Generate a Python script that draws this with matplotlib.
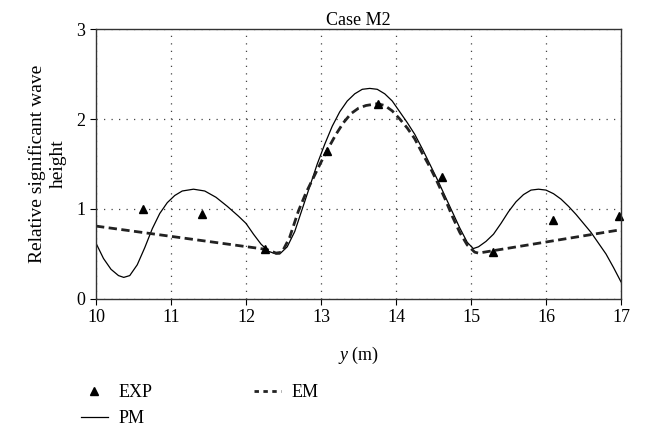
"""Case M2: relative significant wave height along y."""

import matplotlib

matplotlib.use("Agg")

import matplotlib.pyplot as plt
from matplotlib.lines import Line2D

plt.rcParams["font.family"] = ["Liberation Serif", "DejaVu Serif"]
plt.rcParams["mathtext.fontset"] = "custom"
plt.rcParams["mathtext.it"] = "Liberation Serif:italic"

# measured points
exp_y = [10.63, 11.42, 12.25, 13.08, 13.76, 14.61, 15.29, 16.10, 16.97]
exp_h = [1.00, 0.94, 0.55, 1.64, 2.17, 1.36, 0.52, 0.88, 0.92]

# PM model curve
pm_y = [10.0, 10.1, 10.2, 10.3, 10.37, 10.45, 10.55, 10.65, 10.75, 10.85,
        10.95, 11.05, 11.15, 11.3, 11.45, 11.6, 11.75, 11.9, 12.0, 12.1,
        12.2, 12.3, 12.4, 12.45, 12.55, 12.65, 12.75, 12.85, 12.95, 13.05,
        13.15, 13.25, 13.35, 13.45, 13.55, 13.65, 13.75, 13.85, 13.95, 14.05,
        14.15, 14.25, 14.35, 14.45, 14.55, 14.65, 14.75, 14.85, 14.95, 15.03,
        15.1, 15.2, 15.3, 15.4, 15.5, 15.6, 15.7, 15.8, 15.9, 16.0,
        16.1, 16.2, 16.3, 16.4, 16.5, 16.6, 16.7, 16.8, 16.9, 17.0]
pm_h = [0.62, 0.45, 0.33, 0.26, 0.24, 0.26, 0.38, 0.57, 0.78, 0.95,
        1.07, 1.15, 1.20, 1.22, 1.20, 1.13, 1.03, 0.92, 0.84, 0.72,
        0.61, 0.53, 0.50, 0.50, 0.58, 0.75, 1.00, 1.25, 1.50, 1.72,
        1.92, 2.08, 2.20, 2.28, 2.33, 2.34, 2.33, 2.28, 2.20, 2.08,
        1.96, 1.83, 1.67, 1.50, 1.33, 1.15, 0.97, 0.79, 0.63, 0.56,
        0.58, 0.64, 0.72, 0.84, 0.97, 1.08, 1.16, 1.21, 1.22, 1.21,
        1.17, 1.11, 1.03, 0.94, 0.84, 0.74, 0.62, 0.50, 0.35, 0.19]

# EM model curve
em_y = [10.0, 12.28, 12.4, 12.48, 12.58, 12.7, 12.8, 12.9, 13.0, 13.1,
        13.2, 13.3, 13.4, 13.5, 13.6, 13.75, 13.85, 13.95, 14.05, 14.15,
        14.25, 14.35, 14.45, 14.55, 14.65, 14.75, 14.85, 14.95, 15.05, 15.1,
        17.0]
em_h = [0.81, 0.55, 0.51, 0.52, 0.68, 0.98, 1.18, 1.35, 1.52, 1.68,
        1.83, 1.96, 2.06, 2.12, 2.15, 2.17, 2.15, 2.09, 2.00, 1.90,
        1.78, 1.62, 1.47, 1.30, 1.12, 0.92, 0.74, 0.60, 0.52, 0.51,
        0.77]

fig = plt.figure(figsize=(6.46, 4.33), dpi=100)
ax = fig.add_axes([0.1486, 0.3095, 0.8127, 0.6235])

ax.plot(pm_y, pm_h, color="black", linewidth=0.9)
ax.plot(em_y, em_h, color="#222222", linewidth=2.0, linestyle=(0, (3, 1.6)))
ax.plot(exp_y, exp_h, linestyle="none", marker="^", markersize=6,
        color="black", clip_on=False)

ax.set_xlim(10, 17)
ax.set_ylim(0, 3)
ax.set_xticks(range(10, 18))
ax.set_yticks([0, 1, 2, 3])
ax.grid(True, color="#444444", linestyle=(0, (1, 5)), linewidth=0.9)
ax.tick_params(labelsize=13, direction="out", length=4, width=0.8)
for s in ax.spines.values():
    s.set_color("#333333")
    s.set_linewidth(1.0)

ax.set_title("Case M2", fontsize=13, pad=3)
ax.set_xlabel(r"$\mathit{y}$ (m)", fontsize=13, labelpad=13)
ax.set_ylabel("Relative significant wave\nheight", fontsize=14, labelpad=7,
              linespacing=1.3)

handles = [
    Line2D([], [], linestyle="none", marker="^", markersize=6, color="black"),
    Line2D([], [], color="black", linewidth=0.9),
    Line2D([], [], color="#222222", linewidth=2.0, linestyle=(0, (1.6, 1.6))),
]
fig.legend(handles, ["EXP", "PM", "EM"], ncol=2, frameon=False,
           loc="upper left", bbox_to_anchor=(0.10, 0.15), fontsize=13,
           handlelength=1.5, columnspacing=5.6, labelspacing=0.5,
           handletextpad=0.6)

fig.savefig("out.png", dpi=100)
